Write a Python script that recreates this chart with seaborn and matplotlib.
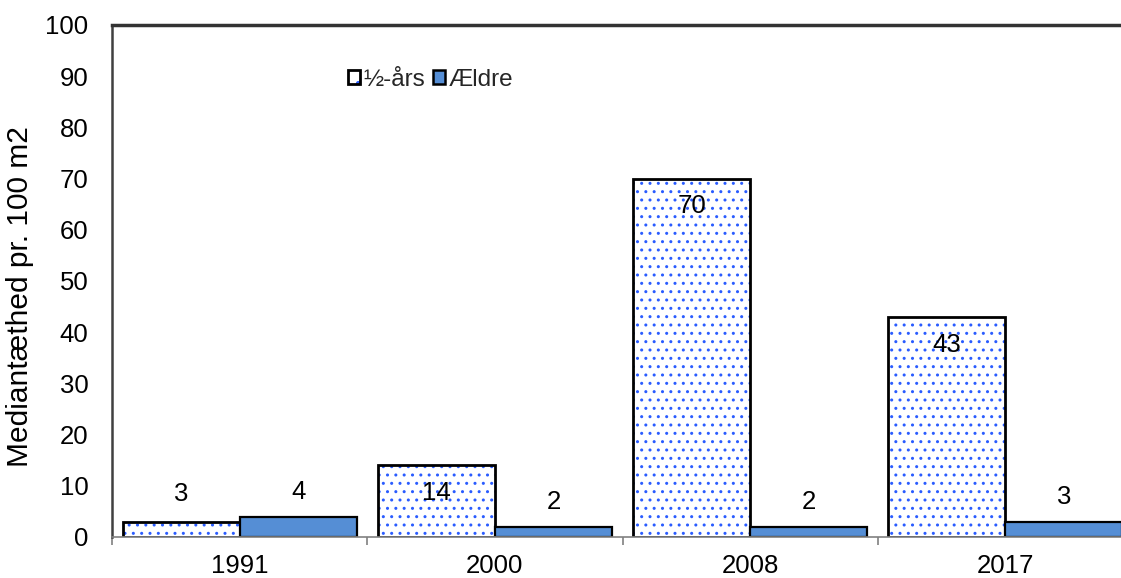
import matplotlib
matplotlib.use("Agg")
import matplotlib.pyplot as plt
import matplotlib.colors as mcolors
from matplotlib.patches import Patch
import seaborn as sns
import pandas as pd

years = ["1991", "2000", "2008", "2017"]
series_names = ["½-års", "Ældre"]
halvaars = [3, 14, 70, 43]
aeldre = [4, 2, 2, 3]
y_ticks = [0, 10, 20, 30, 40, 50, 60, 70, 80, 90, 100]
y_label = "Mediantæthed pr. 100 m2"

dot_blue = "#2a5cff"
aeldre_blue = "#558ED5"

sns.set_theme(style="white")
plt.rcParams['font.family'] = ['Liberation Sans', 'DejaVu Sans']
plt.rcParams['hatch.linewidth'] = 1.0

df = pd.DataFrame({
    "year": years * 2,
    "serie": [series_names[0]] * 4 + [series_names[1]] * 4,
    "value": halvaars + aeldre,
})

fig = plt.figure(figsize=(11.21, 5.78), dpi=100)
ax = fig.add_axes([112 / 1121, 1 - 537 / 578, 1021 / 1121, 512 / 578])

sns.barplot(data=df, x="year", y="value", hue="serie", order=years,
            hue_order=series_names, palette=["white", aeldre_blue],
            width=0.917, gap=0, dodge=True, ax=ax, legend=False,
            saturation=1)

bars = [p for p in ax.patches]
half_bars = bars[:4]
old_bars = bars[4:8]
for p in half_bars:
    p.set_facecolor("white")
    p.set_edgecolor("black")
    p.set_linewidth(2.0)
    p.set_hatch("..")
    p._hatch_color = mcolors.to_rgba(dot_blue)
for p in old_bars:
    p.set_facecolor(aeldre_blue)
    p.set_edgecolor("black")
    p.set_linewidth(1.6)

# value labels
for p, v in zip(half_bars, halvaars):
    xc = p.get_x() + p.get_width() / 2
    off = -20 if v > 10 else 20
    ax.annotate(str(v), (xc, p.get_height()), xytext=(0, off),
                textcoords="offset points", ha="center", va="center",
                fontsize=18.5, color="black")
for p, v in zip(old_bars, aeldre):
    xc = p.get_x() + p.get_width() / 2
    ax.annotate(str(v), (xc, p.get_height()), xytext=(0, 18),
                textcoords="offset points", ha="center", va="center",
                fontsize=18.5, color="black")

ax.set_ylim(0, 100)
ax.set_xlim(-0.5, len(years) - 0.5)
ax.set_yticks(y_ticks)
ax.set_yticklabels([str(t) for t in y_ticks], fontsize=18.5)
ax.tick_params(axis="y", length=0, pad=17, labelcolor="black")
ax.set_xticks(range(len(years)))
ax.set_xticklabels(years, fontsize=18.5)
ax.set_xticks([i - 0.5 for i in range(len(years) + 1)], minor=True)
ax.tick_params(axis="x", which="major", length=0, pad=12, labelcolor="black")
ax.tick_params(axis="x", which="minor", length=6, width=1.2, color="#808080",
               direction="out", bottom=True)
ax.set_xlabel("")
ax.set_ylabel(y_label, fontsize=21.5, color="black")
ax.yaxis.set_label_coords(-0.076, 0.469)

for side in ["left", "bottom", "top", "right"]:
    ax.spines[side].set_visible(True)
ax.spines["top"].set_color("#333333")
ax.spines["top"].set_linewidth(2.5)
ax.spines["left"].set_color("#404040")
ax.spines["left"].set_linewidth(1.8)
ax.spines["bottom"].set_color("#808080")
ax.spines["bottom"].set_linewidth(1.2)
ax.spines["right"].set_color("#333333")

h1 = Patch(facecolor="white", edgecolor="black", linewidth=2.0, hatch=".")
h1._hatch_color = mcolors.to_rgba(dot_blue)
h2 = Patch(facecolor=aeldre_blue, edgecolor="black", linewidth=1.8)
leg = ax.legend([h1, h2], series_names, loc="center left",
                bbox_to_anchor=(0.219, 0.893), ncol=2, frameon=False,
                fontsize=17.5, handlelength=0.5, handleheight=0.5,
                handletextpad=0.15, columnspacing=0.3, borderpad=0)

fig.savefig("out.png", dpi=100)
